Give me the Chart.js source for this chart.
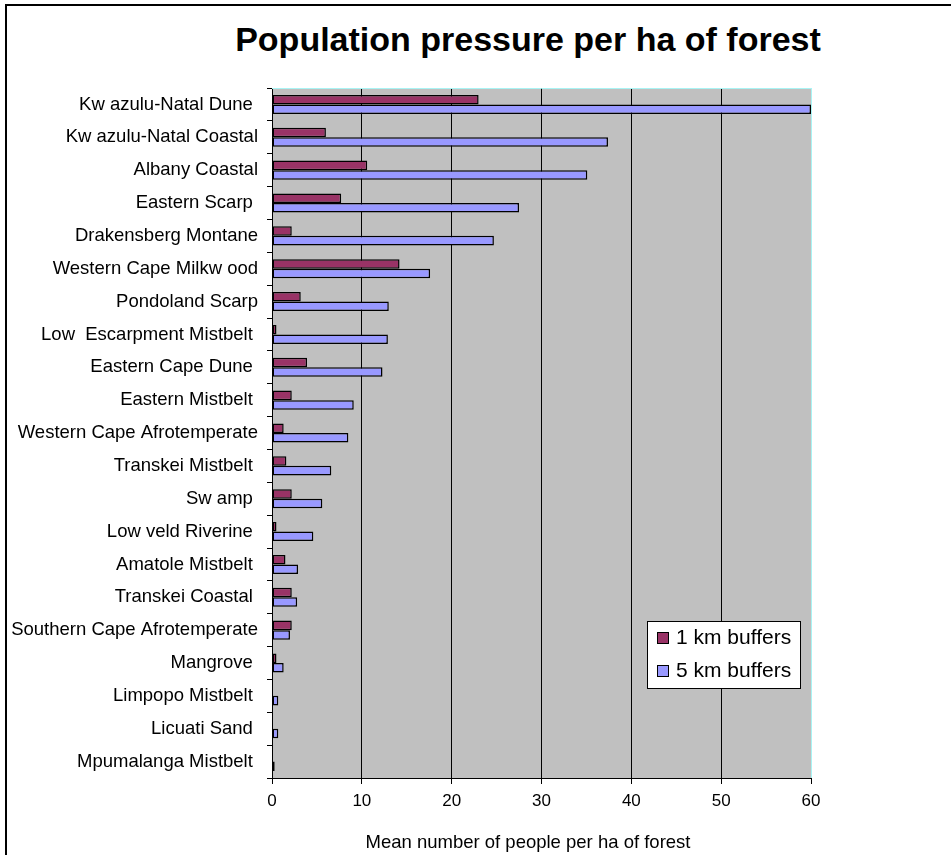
<!DOCTYPE html>
<html lang="en">
<head>
    <meta charset="UTF-8">
    <title>Population pressure per ha of forest</title>
    <script src="https://cdn.jsdelivr.net/npm/chart.js@4.4.1/dist/chart.umd.min.js"></script>
    <style>
        body { margin: 0; background: #fff; }
        #wrap { position: relative; width: 951px; height: 855px; overflow: hidden; }
        #frame {
            position: absolute; left: 5px; top: 4px; width: 960px; height: 900px;
            border-left: 2px solid #000; border-top: 2px solid #000;
        }
        #title {
            position: absolute; left: 0; top: 20px; width: 1056px; text-align: center;
            font: bold 34px "Liberation Sans", Arial, sans-serif; color: #000;
        }
        #xtitle {
            position: absolute; left: 0; top: 831px; width: 1056px; text-align: center;
            font: 18.5px "Liberation Sans", Arial, sans-serif; color: #000;
        }
        canvas { position: absolute; left: 0; top: 0; }
    </style>
</head>
<body>
<div id="wrap">
    <div id="frame"></div>
    <div id="title">Population pressure per ha of forest</div>
    <canvas id="chart" width="951" height="855"></canvas>
    <div id="xtitle">Mean number of people per ha of forest</div>
</div>
<script>
    const forestTypes = [
        'Kw azulu-Natal Dune ', 'Kw azulu-Natal Coastal', 'Albany Coastal', 'Eastern Scarp ',
        'Drakensberg Montane', 'Western Cape Milkw ood', 'Pondoland Scarp', 'Low  Escarpment Mistbelt ',
        'Eastern Cape Dune ', 'Eastern Mistbelt ', 'Western Cape Afrotemperate', 'Transkei Mistbelt ',
        'Sw amp ', 'Low veld Riverine ', 'Amatole Mistbelt ', 'Transkei Coastal ',
        'Southern Cape Afrotemperate', 'Mangrove ', 'Limpopo Mistbelt ', 'Licuati Sand ', 'Mpumalanga Mistbelt '
    ];
    const buffer1km = [23, 6.0, 10.6, 7.7, 2.2, 14.2, 3.2, 0.5, 3.9, 2.2, 1.3, 1.6, 2.2, 0.5, 1.5, 2.2, 2.2, 0.5, 0, 0, 0];
    const buffer5km = [60, 37.4, 35.1, 27.5, 24.7, 17.6, 13.0, 12.9, 12.3, 9.1, 8.5, 6.6, 5.6, 4.6, 2.9, 2.8, 2.0, 1.3, 0.7, 0.7, 0.3];
    const xTicks = [0, 10, 20, 30, 40, 50, 60];

    const FONT = '"Liberation Sans", Arial, sans-serif';

    // grey plot background plus the light cyan top / right edge
    const plotArea = {
        id: 'plotArea',
        beforeDraw(chart) {
            const { ctx, chartArea: a } = chart;
            ctx.save();
            ctx.fillStyle = '#c0c0c0';
            ctx.fillRect(a.left, a.top, a.right - a.left, a.bottom - a.top);
            ctx.restore();
        },
        beforeDatasetsDraw(chart) {
            const { ctx, chartArea: a } = chart;
            ctx.save();
            ctx.strokeStyle = '#a8f4f4';
            ctx.lineWidth = 1;
            ctx.beginPath();
            ctx.moveTo(a.left, a.top + 0.5);
            ctx.lineTo(a.right + 0.5, a.top + 0.5);
            ctx.lineTo(a.right + 0.5, a.bottom);
            ctx.stroke();
            ctx.restore();
        }
    };

    // Excel style legend box inside the plot
    const boxLegend = {
        id: 'boxLegend',
        afterDraw(chart) {
            const { ctx } = chart;
            const x = 647, y = 621, w = 153, h = 67;
            ctx.save();
            ctx.fillStyle = '#fff';
            ctx.fillRect(x, y, w, h);
            ctx.strokeStyle = '#000';
            ctx.lineWidth = 1;
            ctx.strokeRect(x + 0.5, y + 0.5, w, h);
            ctx.font = '21px ' + FONT;
            ctx.textBaseline = 'middle';
            chart.data.datasets.forEach((ds, i) => {
                const cy = y + 17 + i * 33;
                ctx.fillStyle = ds.backgroundColor;
                ctx.fillRect(x + 10, cy - 6, 11, 11);
                ctx.strokeRect(x + 10.5, cy - 5.5, 11, 11);
                ctx.fillStyle = '#000';
                ctx.fillText(ds.label, x + 29, cy);
            });
            ctx.restore();
        }
    };

    new Chart(document.getElementById('chart'), {
        type: 'bar',
        data: {
            labels: forestTypes,
            datasets: [
                { label: '1 km buffers', data: buffer1km, backgroundColor: '#993366' },
                { label: '5 km buffers', data: buffer5km, backgroundColor: '#9999ff' }
            ]
        },
        options: {
            indexAxis: 'y',
            responsive: false,
            animation: false,
            layout: { padding: { left: 0, right: 140, top: 88, bottom: 0 } },
            datasets: {
                bar: {
                    borderColor: '#000',
                    borderWidth: 1.5,
                    borderSkipped: false,
                    categoryPercentage: 0.58,
                    barPercentage: 1
                }
            },
            scales: {
                x: {
                    min: 0,
                    max: 60,
                    afterBuildTicks(scale) { scale.ticks = xTicks.map(v => ({ value: v })); },
                    afterFit(scale) { scale.height = 77; },
                    border: { color: '#000', width: 1 },
                    grid: {
                        color: c => (c.tick && c.tick.value === 60) ? '#a8f4f4' : '#000',
                        tickColor: '#000',
                        tickLength: 6,
                        lineWidth: 1
                    },
                    ticks: { color: '#000', font: { family: FONT, size: 17 }, padding: 7 }
                },
                y: {
                    afterFit(scale) { scale.width = 272; },
                    border: { color: '#000', width: 1 },
                    grid: { drawOnChartArea: false, tickColor: '#000', tickLength: 5, offset: true },
                    ticks: { color: '#000', font: { family: FONT, size: 18.5 }, padding: 9, autoSkip: false }
                }
            },
            plugins: {
                legend: { display: false },
                tooltip: { enabled: false }
            }
        },
        plugins: [plotArea, boxLegend]
    });
</script>
</body>
</html>
